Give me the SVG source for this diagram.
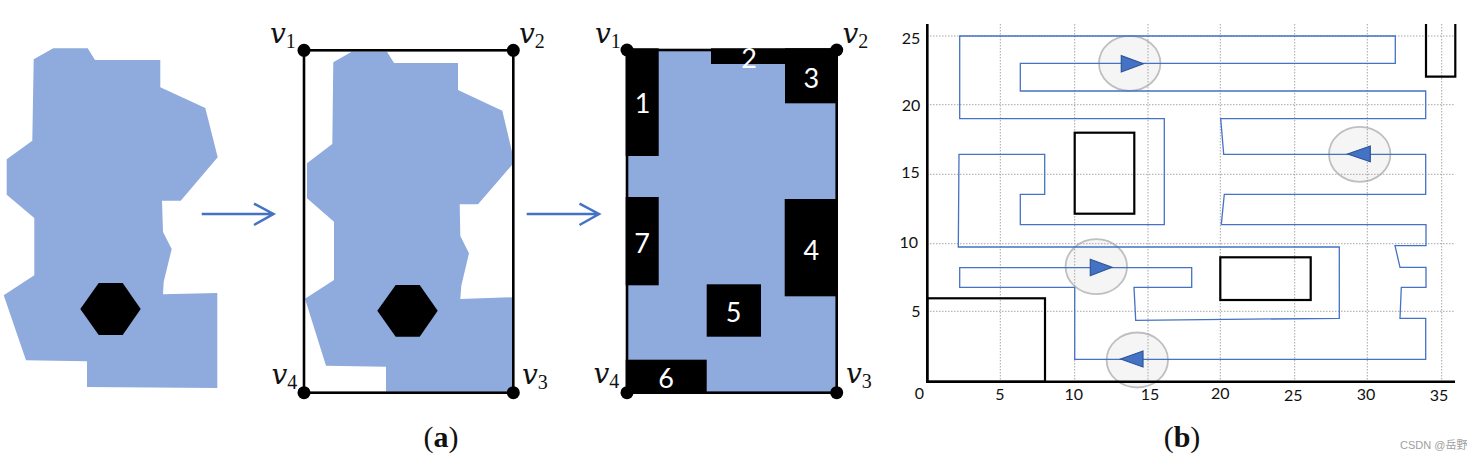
<svg xmlns="http://www.w3.org/2000/svg" width="1483" height="460" viewBox="0 0 1483 460">
<style>
.blob{fill:#8faadc}
.k{fill:#000}
.frame{fill:none;stroke:#000;stroke-width:2.6}
.arr{fill:none;stroke:#4472c4;stroke-width:2.5}
.v{font-family:"DejaVu Serif",serif;font-style:italic;font-size:28px;fill:#111}
.s{font-family:"Liberation Serif",serif;font-style:normal;font-size:20px}
.n{font-family:Lato,"Open Sans",sans-serif;font-size:27px;fill:#fff;text-anchor:middle;dominant-baseline:central}
.t{font-family:Lato,"Open Sans",sans-serif;font-size:16px;fill:#111;text-anchor:middle;dominant-baseline:central}
.grid{fill:none;stroke:#a6a6a6;stroke-width:1;stroke-dasharray:1.5 1.5}
.obs{fill:none;stroke:#000;stroke-width:2.2}
.axis{fill:none;stroke:#000;stroke-width:2.6}
.path{fill:none;stroke:#4472c4;stroke-width:1.3;stroke-linejoin:miter}
.halo{fill:#f2f2f2;fill-opacity:.8;stroke:#bfbfbf;stroke-width:1.8}
.tri{fill:#4472c4;stroke:#2f5597;stroke-width:1.2}
.cap{font-family:"Liberation Serif",serif;font-size:30px;fill:#111;text-anchor:middle}
</style>
<g id="panel-1">
<polygon class="blob" points="33.7,59.3 53.3,48.3 87.7,48.3 95,60 160.3,60 160.3,87.3 205.3,108 217.7,157.3 180.7,200.7 162,200.7 163,232 171.7,249 163.7,281.7 163,294.3 217.3,293 217.3,388 87,387 87,361.3 26,360.3 3.7,295.3 34.3,275.3 34.3,218 6.7,194.7 6.7,159.3 32.3,140.7"/>
<polygon class="k" points="80.3,309 98.7,283 122.7,283 140.7,309 122.7,335 98.7,335"/>
</g>
<g id="arrow-1"><path class="arr" d="M201.7 214H273M254 203.700L273.500 214L254 225"/></g>
<g id="panel-2">
<polygon class="blob" points="333.3,62.3 351.7,51.7 387,51.7 394,63 458,63 458,90 502.3,110.7 512,151.7 512,165 478,204.3 459.7,204.3 460.3,236 469,253.3 461.3,285.7 460.3,299 512,297.3 512,391.7 386,391.7 386,366.7 326,365.7 305,298.7 334,280 334,221.7 307,198.3 307,163.3 332.3,144"/>
<polygon class="k" points="377.3,310.7 395.7,285 419.7,285 437.7,310.7 419.7,336.7 395.7,336.7"/>
<rect class="frame" x="304" y="50.3" width="209.3" height="342.4"/>
<circle class="k" cx="304" cy="50.3" r="6.5"/><circle class="k" cx="513.3" cy="50.3" r="6.5"/><circle class="k" cx="513.3" cy="392.7" r="6.5"/><circle class="k" cx="304" cy="392.7" r="6.5"/>
<text class="v" x="270" y="43">v<tspan class="s" dy="5">1</tspan></text>
<text class="v" x="519" y="43">v<tspan class="s" dy="5">2</tspan></text>
<text class="v" x="522" y="384">v<tspan class="s" dy="5">3</tspan></text>
<text class="v" x="271.500" y="384">v<tspan class="s" dy="5">4</tspan></text>
</g>
<g id="arrow-2"><path class="arr" d="M526.700 214H598M579.500 203.700L599 214L579.500 225"/></g>
<g id="panel-3">
<rect class="blob" x="628" y="50.500" width="208" height="341.500"/>
<rect class="frame" x="627" y="50" width="209.700" height="342.700"/>
<rect class="k" x="625.700" y="48.300" width="33" height="107.700"/>
<rect class="k" x="711" y="48.300" width="126" height="15.700"/>
<rect class="k" x="785" y="48.300" width="52.700" height="55"/>
<rect class="k" x="784.700" y="199" width="53" height="97.300"/>
<rect class="k" x="706.700" y="284.300" width="54.300" height="52.400"/>
<rect class="k" x="625.700" y="359.700" width="81" height="33"/>
<rect class="k" x="625.700" y="197" width="33" height="88.300"/>
<circle class="k" cx="627" cy="50" r="6.500"/><circle class="k" cx="836.700" cy="50" r="6.500"/><circle class="k" cx="836.700" cy="392.700" r="6.500"/><circle class="k" cx="627" cy="392.700" r="6.500"/>
<text class="n" x="642.700" y="102.700">1</text>
<text class="n" x="749" y="57.700">2</text>
<text class="n" x="811.300" y="77.300">3</text>
<text class="n" x="811.300" y="249">4</text>
<text class="n" x="733.700" y="311">5</text>
<text class="n" x="666" y="377.700">6</text>
<text class="n" x="642" y="242.300">7</text>
<text class="v" x="595" y="42.700">v<tspan class="s" dy="5">1</tspan></text>
<text class="v" x="842.500" y="42.700">v<tspan class="s" dy="5">2</tspan></text>
<text class="v" x="846" y="383">v<tspan class="s" dy="5">3</tspan></text>
<text class="v" x="593.500" y="383">v<tspan class="s" dy="5">4</tspan></text>
</g>
<text class="cap" x="441" y="447">(<tspan font-weight="bold">a</tspan>)</text>
<g id="chart">
<g id="ellipses">
<ellipse class="halo" cx="1129.700" cy="63.300" rx="30.700" ry="27.500"/>
<ellipse class="halo" cx="1359.700" cy="154.300" rx="30.700" ry="27.500"/>
<ellipse class="halo" cx="1096.300" cy="266.700" rx="30.700" ry="27.500"/>
<ellipse class="halo" cx="1137.300" cy="360" rx="30.700" ry="27.500"/>
</g>
<path class="grid" d="M1000.300 24V381M1074.700 24V381M1148 24V381M1220.300 24V381M1294.700 24V381M1367.300 24V381M1441.700 24V381M927 36H1455M927 104.700H1455M927 174.300H1455M927 243.700H1455M927 311.300H1455"/>
<g id="connectors">
<path class="path" d="M959.700 36H1395.300V63.300H1020.300V91H1425.700V118.700H1220.700L1223.700 154.300H1425.700V194.300H1224.300L1221.300 224.700H1426V245.700H1395L1400 267.300H1426V287.300H1401.300L1400 318.300H1425.700V359.300H1074.700V287.300H959.700V267.700H1191.700V287.300H1134L1135.700 320.300L1339.300 318.300V247H958.300L959 154.300H1044.700V194.300H1020.300V224.700H1164.300V118.700H959.700Z"/>
</g>
<g id="obstacles">
<rect class="obs" x="1074.700" y="132.700" width="59.600" height="81"/>
<rect class="obs" x="927.300" y="298.300" width="117.700" height="83.400"/>
<rect class="obs" x="1220.300" y="257.300" width="90.400" height="42.700"/>
<path class="obs" d="M1426 24V76.700H1455.300V24"/>
</g>
<g id="direction-markers">
<polygon class="tri" points="1121.300,55.700 1121.300,72 1143.300,63.700"/>
<polygon class="tri" points="1370.300,146 1370.300,161.700 1347.700,154"/>
<polygon class="tri" points="1090.300,259.300 1090.300,275.700 1112,267.300"/>
<polygon class="tri" points="1143,351 1143,367 1120.700,359"/>
</g>
<path class="axis" d="M927.300 24V381.700H1455"/>
<text class="t" x="911" y="37.300">25</text>
<text class="t" x="911" y="104">20</text>
<text class="t" x="910.500" y="171.700">15</text>
<text class="t" x="908.700" y="241.700">10</text>
<text class="t" x="916" y="310">5</text>
<text class="t" x="919.500" y="392.700">0</text>
<text class="t" x="1000" y="393.300">5</text>
<text class="t" x="1073.700" y="393">10</text>
<text class="t" x="1150" y="393.700">15</text>
<text class="t" x="1220.300" y="392.700">20</text>
<text class="t" x="1293.300" y="394">25</text>
<text class="t" x="1366" y="393.700">30</text>
<text class="t" x="1439" y="394">35</text>
</g>
<text class="cap" x="1182" y="447">(<tspan font-weight="bold">b</tspan>)</text>
<text x="1400" y="449" font-family="'Liberation Sans','Noto Sans CJK SC',sans-serif" font-size="11" fill="#a0a0a0">CSDN @岳野</text>
</svg>
